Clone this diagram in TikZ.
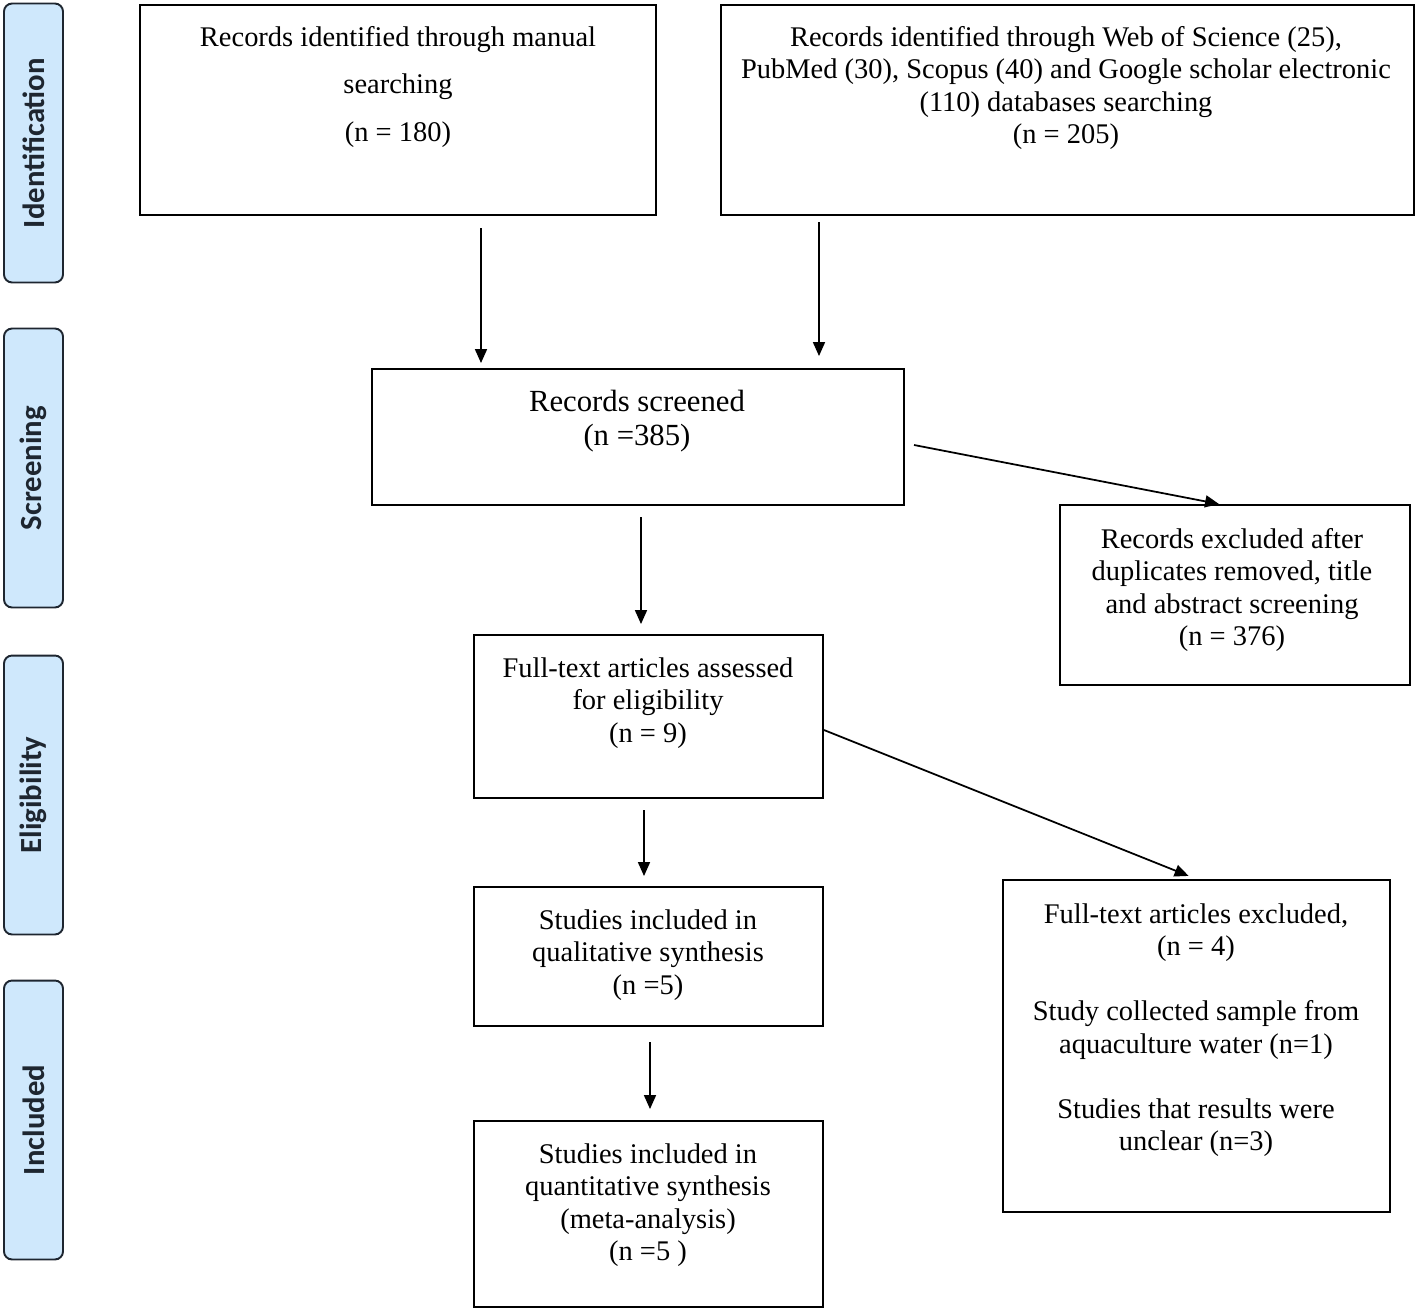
\documentclass[tikz,border=0pt]{standalone}
\usepackage{fontspec}
\setmainfont{Liberation Serif}
\newfontfamily\phasefont{Carlito}
\usetikzlibrary{arrows.meta}

\definecolor{phasefill}{RGB}{207,232,252}
\definecolor{phaseline}{RGB}{30,38,48}

\begin{document}
\begin{tikzpicture}[x=0.02cm, y=-0.02cm,
    box/.style={draw, line width=1.1pt, inner sep=0pt},
    txt/.style={align=center, font=\fontsize{16.2}{18.5}\selectfont},
    phase/.style={draw=phaseline, line width=1.1pt, fill=phasefill, rounded corners=0.16cm,
        rotate=90, minimum width=5.58cm, minimum height=1.18cm,
        font=\phasefont\bfseries\fontsize{17.5}{19}\selectfont, text=phaseline},
    arr/.style={-{Triangle[length=0.28cm, width=0.24cm]}, line width=1pt}]
    \useasboundingbox (0,0) rectangle (1418,1312);

    % phases on the left
    \node[phase] (ident) at (33.5,143) {Identification};
    \node[phase] (scr) at (33.5,468) {Screening};
    \node[phase] (elig) at (33.5,795) {Eligibility};
    \node[phase] (incl) at (33.5,1120) {Included};

    % identification
    \node[box, minimum width=10.32cm, minimum height=4.2cm] (manual) at (398,110) {};
    \node[txt, font=\fontsize{16.2}{27}\selectfont] (manualtxt) at (398,87)
        {Records identified through manual\\ searching\\ (n = 180)};
    \node[box, minimum width=13.86cm, minimum height=4.2cm] (db) at (1067.5,110) {};
    \node[txt] (dbtxt) at (1066,88)
        {Records identified through Web of Science (25),\\
         PubMed (30), Scopus (40) and Google scholar electronic\\
         (110) databases searching\\ (n = 205)};

    % screening
    \node[box, minimum width=10.64cm, minimum height=2.72cm] (screened) at (638,437) {};
    \node[txt, font=\fontsize{17.5}{19}\selectfont] (screenedtxt) at (637,421)
        {Records screened\\ (n =385)};
    \node[box, minimum width=7cm, minimum height=3.6cm] (excl1) at (1235,595) {};
    \node[txt] (excl1txt) at (1232,590)
        {Records excluded after\\ duplicates removed, title\\ and abstract screening\\ (n = 376)};

    % eligibility
    \node[box, minimum width=6.98cm, minimum height=3.26cm] (fulltext) at (648.5,716.5) {};
    \node[txt] (fulltexttxt) at (648,703)
        {Full-text articles assessed\\ for eligibility\\ (n = 9)};
    \node[box, minimum width=7.74cm, minimum height=6.64cm] (excl2) at (1196.5,1046) {};
    \node[txt] (excl2txt) at (1196,1030)
        {Full-text articles excluded,\\ (n = 4)\\[18.5pt]
         Study collected sample from\\ aquaculture water (n=1)\\[18.5pt]
         Studies that results were\\ unclear (n=3)};

    % included
    \node[box, minimum width=6.98cm, minimum height=2.78cm] (qual) at (648.5,956.5) {};
    \node[txt] (qualtxt) at (648,955)
        {Studies included in\\ qualitative synthesis\\ (n =5)};
    \node[box, minimum width=6.98cm, minimum height=3.72cm] (quant) at (648.5,1214) {};
    \node[txt] (quanttxt) at (648,1205)
        {Studies included in\\ quantitative synthesis\\ (meta-analysis)\\ (n =5 )};

    % arrows
    \coordinate (a1) at (481,228);
    \coordinate (a2) at (819,222);
    \coordinate (a3) at (914,445);
    \coordinate (a4) at (641,517);
    \coordinate (a5) at (824,730);
    \coordinate (a6) at (644,810);
    \coordinate (a7) at (650,1042);
    \draw[arr, shorten >=0.1cm] (a1) -- (a1 |- screened.north);
    \draw[arr, shorten >=0.24cm] (a2) -- (a2 |- screened.north);
    \draw[arr] (a3) -- ([xshift=3.2cm]excl1.north west);
    \draw[arr, shorten >=0.2cm] (a4) -- (a4 |- fulltext.north);
    \draw[arr, shorten >=0.17cm] (a5) -- (excl2.north);
    \draw[arr, shorten >=0.2cm] (a6) -- (a6 |- qual.north);
    \draw[arr, shorten >=0.22cm] (a7) -- (a7 |- quant.north);
\end{tikzpicture}
\end{document}
